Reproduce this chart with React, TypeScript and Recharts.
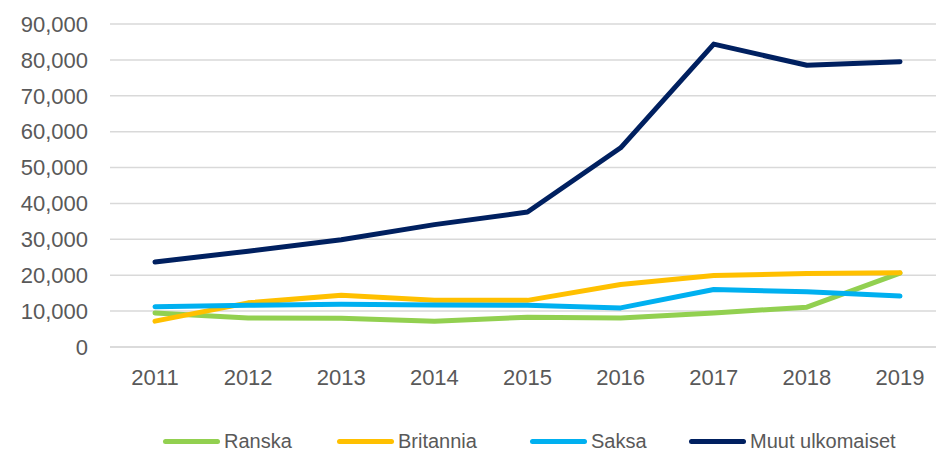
import React from "react";
import {
  CartesianGrid,
  Line,
  LineChart,
  XAxis,
  YAxis,
} from "recharts";

const years = ["2011", "2012", "2013", "2014", "2015", "2016", "2017", "2018", "2019"];
const ranska = [9500, 8100, 8000, 7200, 8300, 8100, 9500, 11100, 20600];
const britannia = [7200, 12300, 14400, 13000, 13000, 17400, 19900, 20500, 20700];
const saksa = [11200, 11600, 11900, 11700, 11600, 10900, 16000, 15400, 14200];
const muut = [23700, 26700, 29900, 34100, 37600, 55500, 84400, 78500, 79500];
const yTicks = [0, 10000, 20000, 30000, 40000, 50000, 60000, 70000, 80000, 90000];

const series = [
  { key: "ranska", name: "Ranska", color: "#92d050", w: 174 },
  { key: "britannia", name: "Britannia", color: "#ffc000", w: 193 },
  { key: "saksa", name: "Saksa", color: "#00b0f0", w: 159 },
  { key: "muut", name: "Muut ulkomaiset", color: "#002060", w: 240 },
];

const data = years.map((year, i) => ({
  year,
  ranska: ranska[i],
  britannia: britannia[i],
  saksa: saksa[i],
  muut: muut[i],
}));

const FONT = "'Liberation Sans', Arial, sans-serif";
const TEXT = "#595959";

// legend drawn outside the chart so it doesn't eat into the plot area
function ChartLegend() {
  return (
    <div
      style={{
        position: "absolute",
        left: 163,
        top: 431,
        height: 20,
        display: "flex",
        alignItems: "center",
        fontFamily: FONT,
        fontSize: 20,
        lineHeight: "20px",
        color: TEXT,
        whiteSpace: "nowrap",
      }}
    >
      {series.map((s) => (
        <div key={s.key} style={{ display: "flex", alignItems: "center", width: s.w }}>
          <span
            style={{
              display: "inline-block",
              width: 57,
              height: 5,
              borderRadius: 3,
              background: s.color,
              marginRight: 4,
            }}
          />
          <span>{s.name}</span>
        </div>
      ))}
    </div>
  );
}

export default function App() {
  return (
    <div style={{ position: "absolute", left: 0, top: 0, width: 936, height: 451, background: "#fff" }}>
      <LineChart
        width={936}
        height={451}
        data={data}
        margin={{ top: 24, right: 0, left: 0, bottom: 44 }}
      >
        <CartesianGrid vertical={false} stroke="#d9d9d9" strokeWidth={1.5} />
        <XAxis
          dataKey="year"
          padding={{ left: 45, right: 36 }}
          tickLine={false}
          axisLine={{ stroke: "#d9d9d9", strokeWidth: 1.5 }}
          tickMargin={16}
          height={60}
          tick={{ fontSize: 22, fill: TEXT, fontFamily: FONT }}
        />
        <YAxis
          width={110}
          domain={[0, 90000]}
          ticks={yTicks}
          interval={0}
          axisLine={false}
          tickLine={false}
          tickMargin={16}
          tick={{ fontSize: 22, fill: TEXT, fontFamily: FONT }}
          tickFormatter={(v: number) => v.toLocaleString("en-US")}
        />
        {series.map((s) => (
          <Line
            key={s.key}
            type="linear"
            dataKey={s.key}
            name={s.name}
            stroke={s.color}
            strokeWidth={5}
            strokeLinecap="round"
            strokeLinejoin="round"
            dot={false}
            activeDot={false}
            isAnimationActive={false}
          />
        ))}
      </LineChart>
      <ChartLegend />
    </div>
  );
}
